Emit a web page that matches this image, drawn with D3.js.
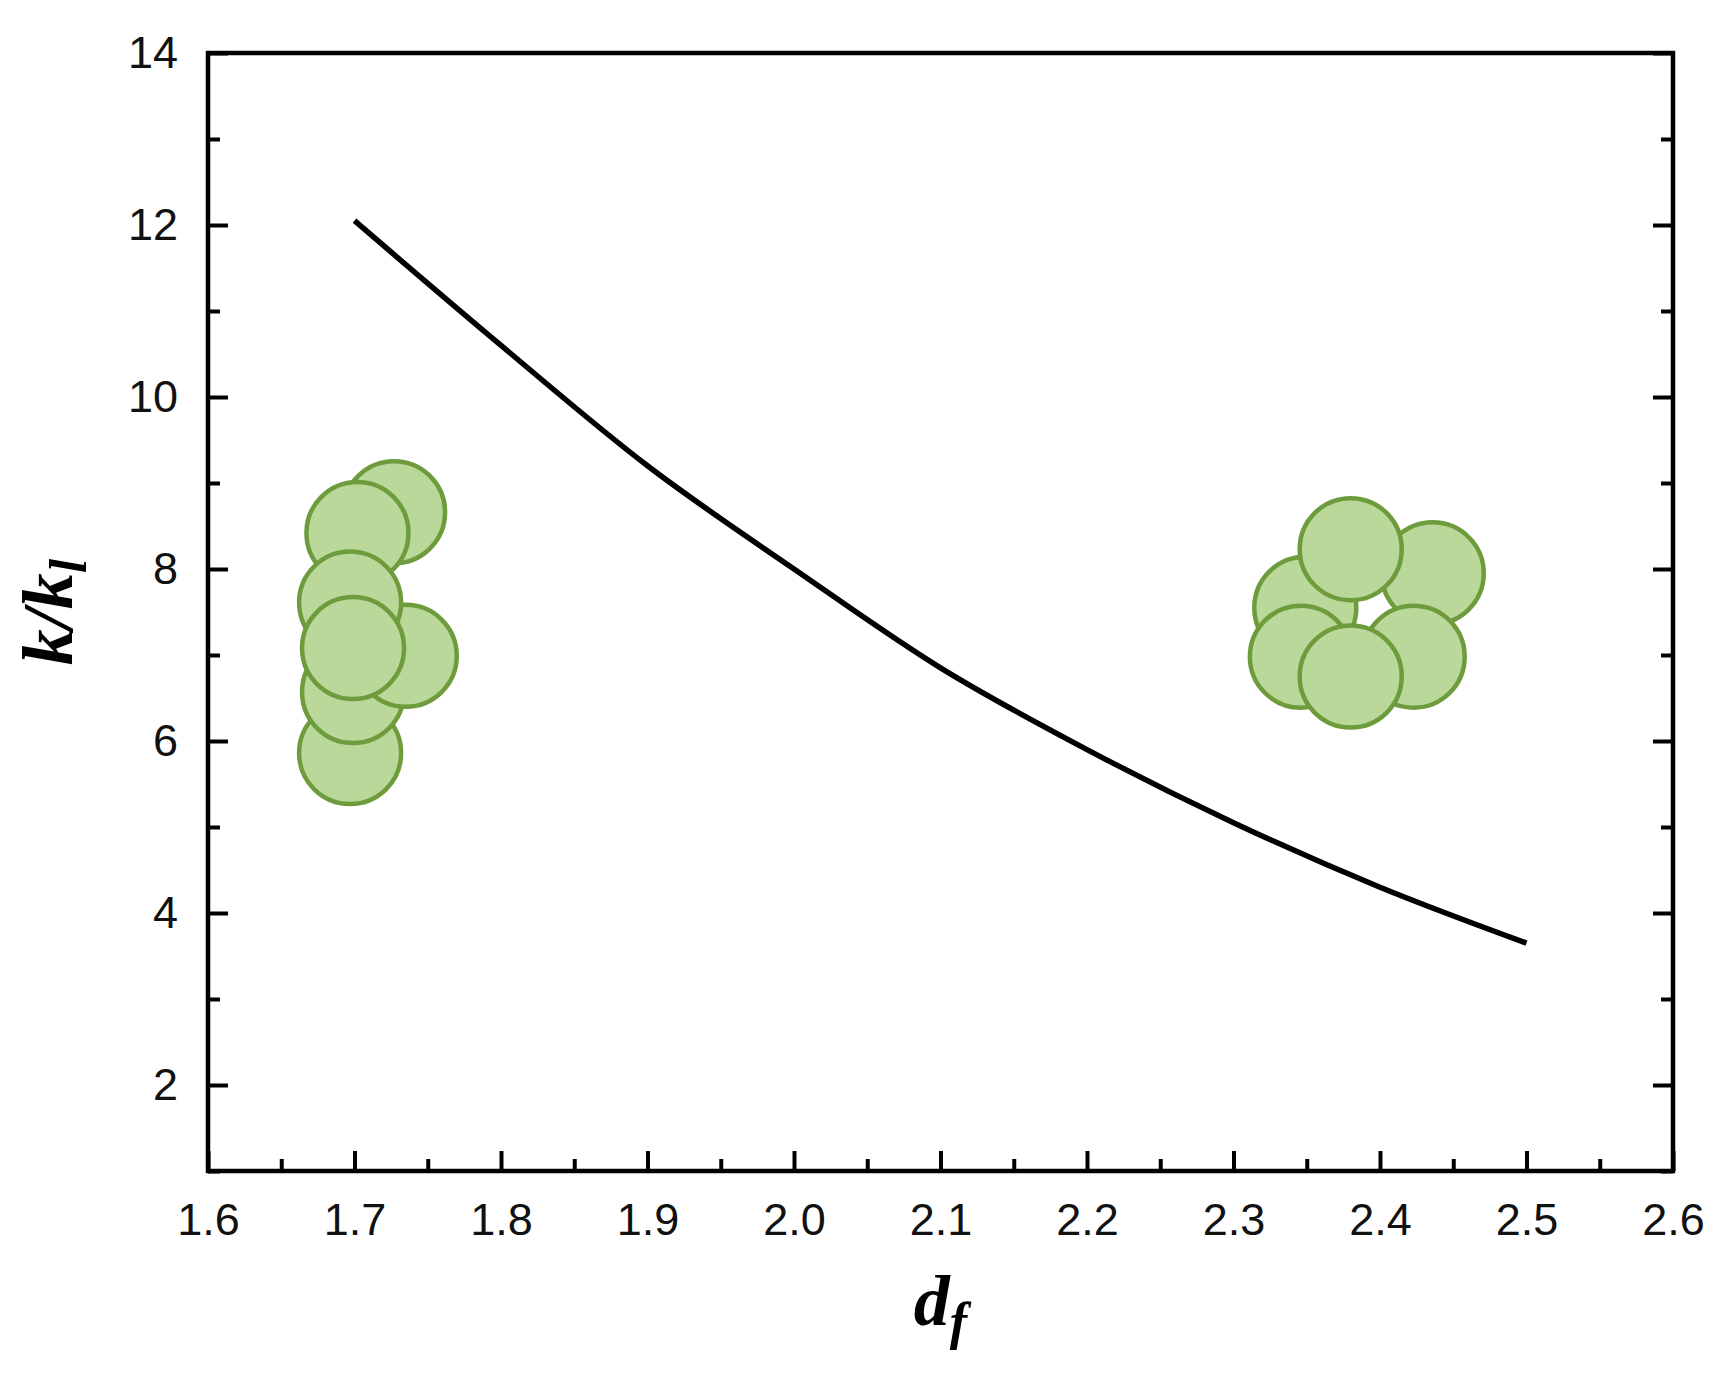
<!DOCTYPE html><html><head><meta charset="utf-8"><script src="https://cdn.jsdelivr.net/npm/d3@7"></script>
<style>body{margin:0;background:#fff}</style></head><body><svg id="c" width="1718" height="1384"></svg><script>
const curveX=[1.7,1.8,1.9,2.0,2.1,2.2,2.3,2.4,2.5];
const curveY=[12.05,10.6,9.2,8.0,6.85,5.9,5.05,4.3,3.65];
const blobX=[1.697,1.699,1.735,1.727,1.702,1.697,1.699, 2.349,2.346,2.436,2.423,2.380,2.380];
const blobY=[5.86,6.57,6.99,8.66,8.42,7.61,7.08, 7.55,6.98,7.95,6.98,6.75,8.23];
const xTicks=[1.6,1.7,1.8,1.9,2.0,2.1,2.2,2.3,2.4,2.5,2.6];
const yTicks=[2,4,6,8,10,12,14];
const svg=d3.select("#c");
const L=208,R=1673,T=53,B=1171;
const x=d3.scaleLinear().domain([1.6,2.6]).range([L,R]);
const y=d3.scaleLinear().domain([1,14]).range([B,T]);
const g=svg.append("g");
g.selectAll("circle").data(blobX).join("circle").attr("cx",d=>x(d)).attr("cy",(d,i)=>y(blobY[i])).attr("r",51)
 .attr("fill","#b9d89a").attr("stroke","#6e9c3c").attr("stroke-width",4.5);
svg.append("path").datum(curveX.map((d,i)=>[d,curveY[i]])).attr("d",d3.line().x(d=>x(d[0])).y(d=>y(d[1])).curve(d3.curveMonotoneX))
 .attr("fill","none").attr("stroke","#000").attr("stroke-width",5.5);
const minorX=d3.range(1.65,2.6,0.1), minorY=d3.range(1,14.1,1).filter(v=>v%2===1);
function ax(axis,tr){const a=svg.append("g").attr("transform",tr).call(axis);a.select(".domain").remove();a.selectAll("line").attr("stroke","#000").attr("stroke-width",4);a.selectAll("text").attr("font-family","Liberation Sans, Arial").attr("font-size",45).attr("fill","#111");return a;}
ax(d3.axisBottom(x).tickValues(xTicks).tickFormat(d3.format(".1f")).tickSizeInner(-20).tickPadding(32),`translate(0,${B})`);
ax(d3.axisBottom(x).tickValues(minorX).tickFormat("").tickSizeInner(-12),`translate(0,${B})`);
ax(d3.axisLeft(y).tickValues(yTicks).tickSizeInner(-20).tickPadding(30),`translate(${L},0)`);
ax(d3.axisLeft(y).tickValues(minorY).tickFormat("").tickSizeInner(-12),`translate(${L},0)`);
ax(d3.axisRight(y).tickValues(yTicks).tickFormat("").tickSizeInner(-20),`translate(${R},0)`);
ax(d3.axisRight(y).tickValues(minorY).tickFormat("").tickSizeInner(-12),`translate(${R},0)`);
svg.append("rect").attr("x",L).attr("y",T).attr("width",R-L).attr("height",B-T).attr("fill","none").attr("stroke","#000").attr("stroke-width",4.5);
svg.append("text").attr("x",(L+R)/2).attr("y",1325).attr("text-anchor","middle").attr("font-family","Liberation Serif, Times New Roman").attr("font-style","italic").attr("font-weight","bold").attr("font-size",72)
 .html('d<tspan font-size="52" dy="14">f</tspan>');
svg.append("text").attr("transform",`translate(72,${(T+B)/2}) rotate(-90)`).attr("text-anchor","middle").attr("font-family","Liberation Serif, Times New Roman").attr("font-style","italic").attr("font-weight","bold").attr("font-size",72)
 .html('k/k<tspan font-size="52" dy="14">l</tspan>');
</script></body></html>
